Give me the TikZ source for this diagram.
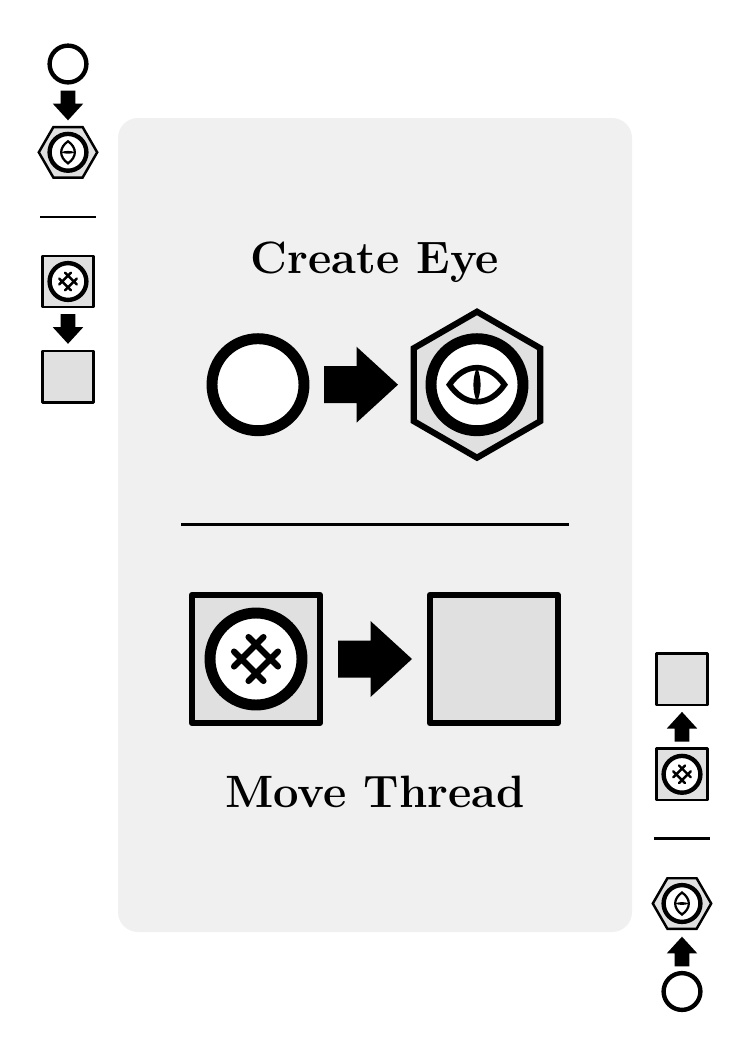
\documentclass[tikz,border=0pt]{standalone}
\usepackage{fontspec}
\setmainfont{Latin Modern Roman}
\newcommand{\titlefont}{\fontsize{34pt}{36pt}\selectfont\bfseries}
\definecolor{cardgray}{HTML}{F0F0F0}
\definecolor{tilegray}{HTML}{E0E0E0}
\tikzset{
  x=0.75pt,y=-0.75pt,
  card/.style={fill=cardgray,draw=none,rounded corners=15pt},
  title/.style={anchor=base,inner sep=0pt,text=black,font=\titlefont},
  rule/.style={draw=black,line width=1.9pt},
  tile/.style={fill=tilegray,draw=black,line join=round},
  disc/.style={fill=white,draw=black},
}
\newcommand{\bigarrow}[4]{\begin{scope}[shift={(#1,#2)},rotate=#3,scale=#4]
  \fill[black] (-37,-18.5) -- (-4.5,-18.5) -- (-4.5,-38) -- (37,0) -- (-4.5,38) -- (-4.5,18.5) -- (-37,18.5) -- cycle;
\end{scope}}
\newcommand{\ring}[4]{\begin{scope}[shift={(#1,#2)},rotate=#3,scale=#4]
  \draw[disc,line width=#4*8.2pt] (0,0) circle (46);
\end{scope}}
\newcommand{\eyemark}[4]{\begin{scope}[shift={(#1,#2)},rotate=#3,scale=#4]
  \draw[tile,line join=miter,line width=#4*4.6pt] (0,-73) -- (63.2,-36.5) -- (63.2,36.5) -- (0,73) -- (-63.2,36.5) -- (-63.2,-36.5) -- cycle;
  \draw[disc,line width=#4*8.2pt] (0,0) circle (46);
  \draw[black,line width=#4*4.2pt,line join=miter] (-27.5,0) .. controls (-12,-22.7) and (12,-22.7) .. (27.5,0) .. controls (12,22.7) and (-12,22.7) .. (-27.5,0) -- cycle;
  \fill[black] (0,-17.5) .. controls (4.8,-6) and (4.8,6) .. (0,17.5) .. controls (-4.8,6) and (-4.8,-6) .. (0,-17.5) -- cycle;
\end{scope}}
\newcommand{\threadmark}[4]{\begin{scope}[shift={(#1,#2)},rotate=#3,scale=#4]
  \draw[tile,line width=#4*4.7pt] (-64,-64) rectangle (64,64);
  \draw[disc,line width=#4*8.2pt] (0,0) circle (46);
  \draw[black,line width=#4*4.6pt,line cap=round] (-7.5,-22) -- (22,7.5) (-22,-7.5) -- (7.5,22) (7.5,-22) -- (-22,7.5) (22,-7.5) -- (-7.5,22);
\end{scope}}
\newcommand{\blanktile}[4]{\begin{scope}[shift={(#1,#2)},rotate=#3,scale=#4]
  \draw[tile,line width=#4*4.7pt] (-64,-64) rectangle (64,64);
\end{scope}}
\begin{document}
\begin{tikzpicture}
\useasboundingbox (0,0) rectangle (750,1050);
\fill[white] (0,0) rectangle (750,1050);
\path[card] (118,118) rectangle (632,932);
% main panel
\node[title] (create) at (375,273) {Create Eye};
\ring{258}{384.7}{0}{1}
\bigarrow{361}{384.7}{0}{1}
\eyemark{477}{384.7}{0}{1}
\coordinate (ruleL) at (181,524.5);
\coordinate (ruleR) at (569,524.5);
\draw[rule,line width=2.3pt] (ruleL) -- (ruleR);
\threadmark{256}{659}{0}{1}
\bigarrow{375}{659}{0}{1}
\blanktile{493.7}{659}{0}{1}
\node[title] (move) at (375,807) {Move Thread};
% left strip
\ring{68}{64}{0}{0.4}
\bigarrow{68}{105.5}{-90}{0.4}
\eyemark{68}{152.3}{-90}{0.4}
\coordinate (lruleL) at (40,217);
\coordinate (lruleR) at (96,217);
\draw[rule] (lruleL) -- (lruleR);
\threadmark{68}{281.5}{-90}{0.4}
\bigarrow{68}{329}{-90}{0.4}
\blanktile{68}{376.7}{-90}{0.4}
% right strip
\ring{682}{991.5}{0}{0.4}
\bigarrow{682}{951.5}{90}{0.4}
\eyemark{682}{903.5}{90}{0.4}
\coordinate (rruleL) at (654,838.7);
\coordinate (rruleR) at (710,838.7);
\draw[rule] (rruleL) -- (rruleR);
\threadmark{682}{774.3}{90}{0.4}
\bigarrow{682}{726.7}{90}{0.4}
\blanktile{682}{679.3}{90}{0.4}
\end{tikzpicture}
\end{document}
